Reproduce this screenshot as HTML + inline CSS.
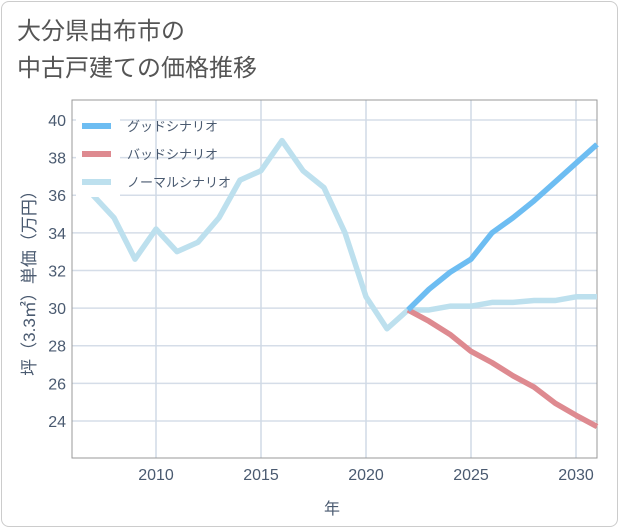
<!DOCTYPE html>
<html><head><meta charset="utf-8">
<style>
body{margin:0;background:#fff;}
#wrap{position:relative;width:621px;height:530px;font-family:"Liberation Sans","Noto Sans CJK JP",sans-serif;}
#frame{position:absolute;left:1px;top:1px;width:617px;height:526px;border:1px solid #ccc;border-radius:8px;box-sizing:border-box;}
#title{position:absolute;left:17px;top:13px;font-size:24px;line-height:37px;color:#555;}
svg{position:absolute;left:0;top:0;}
</style></head>
<body>
<div id="wrap">
<div id="frame"></div>
<div id="title">大分県由布市の<br>中古戸建ての価格推移</div>
<svg id="chart" width="621" height="530"></svg>
</div>
<script>
const normalYears=[2007,2008,2009,2010,2011,2012,2013,2014,2015,2016,2017,2018,2019,2020,2021,2022,2023,2024,2025,2026,2027,2028,2029,2030,2031];
const normalValues=[36.0,34.8,32.6,34.2,33.0,33.5,34.8,36.8,37.3,38.9,37.3,36.4,34.0,30.6,28.9,29.9,29.9,30.1,30.1,30.3,30.3,30.4,30.4,30.6,30.6];
const forecastYears=[2022,2023,2024,2025,2026,2027,2028,2029,2030,2031];
const goodValues=[29.9,31.0,31.9,32.6,34.0,34.8,35.7,36.7,37.7,38.7];
const badValues=[29.9,29.3,28.6,27.7,27.1,26.4,25.8,24.95,24.3,23.7];
const xTicks=[2010,2015,2020,2025,2030];
const yTicks=[24,26,28,30,32,34,36,38,40];
const legendLabels=["グッドシナリオ","バッドシナリオ","ノーマルシナリオ"];

const L=72,R=597,T=100,B=458;
const xMin=2006,xMax=2031,yMin=22.03,yMax=41.06;
const X=v=>L+(v-xMin)/(xMax-xMin)*(R-L);
const Y=v=>B-(v-yMin)/(yMax-yMin)*(B-T);
const svg=document.getElementById('chart');
const NS='http://www.w3.org/2000/svg';
function mk(tag,attrs,parent){const e=document.createElementNS(NS,tag);for(const k in attrs)e.setAttribute(k,attrs[k]);(parent||svg).appendChild(e);return e;}

const g=mk('g',{});


yTicks.forEach(t=>{
  const l=mk('line',{x1:L,x2:R,y1:Y(t),y2:Y(t),stroke:'#d5dde8','stroke-width':1.5},g);
  
  
  const tx=mk('text',{x:L-6,y:Y(t)+6,'text-anchor':'end','font-size':16,fill:'#4a5a70'});
  tx.textContent=t;
  
  
});
xTicks.forEach(t=>{
  const l=mk('line',{x1:X(t),x2:X(t),y1:T,y2:B,stroke:'#d0dae6','stroke-width':1.5},g);
  
  
  const tx=mk('text',{x:X(t),y:B+22,'text-anchor':'middle','font-size':16,fill:'#4a5a70'});
  tx.textContent=t;
  
  
});
const box=mk('rect',{x:L,y:T,width:R-L,height:B-T,fill:'none',stroke:'#999','stroke-width':1});



function line(xs,vs,color,name){
  const p=mk('polyline',{points:xs.map((x,i)=>X(x)+','+Y(vs[i])).join(' '),fill:'none',stroke:color,'stroke-width':5.5,'stroke-linejoin':'round'});
  
  
}
line(normalYears,normalValues,'#bde0ee','normal-scenario-line');
line(forecastYears,badValues,'#de8a90','bad-scenario-line');
line(forecastYears,goodValues,'#6dbdf2','good-scenario-line');

// legend
const lg=mk('rect',{x:76,y:108,width:44,height:89,fill:'#fff'});


const lc=['#6dbdf2','#de8a90','#bde0ee'];
legendLabels.forEach((s,i)=>{
  const y=126+i*28;
  const sw=mk('line',{x1:82,x2:111,y1:y,y2:y,stroke:lc[i],'stroke-width':6});
  
  
  const t=mk('text',{x:127,y:y+5,'font-size':13,fill:'#4a5a70'});
  t.textContent=s;
  
  
});
const yl=mk('text',{x:0,y:0,'font-size':17,fill:'#4a5a70','text-anchor':'middle',transform:'translate(35,279) rotate(-90)'});
yl.textContent='坪（3.3㎡）単価（万円）';


const xl=mk('text',{x:332,y:514,'font-size':16,fill:'#4a5a70','text-anchor':'middle'});
xl.textContent='年';


</script>
</body></html>
